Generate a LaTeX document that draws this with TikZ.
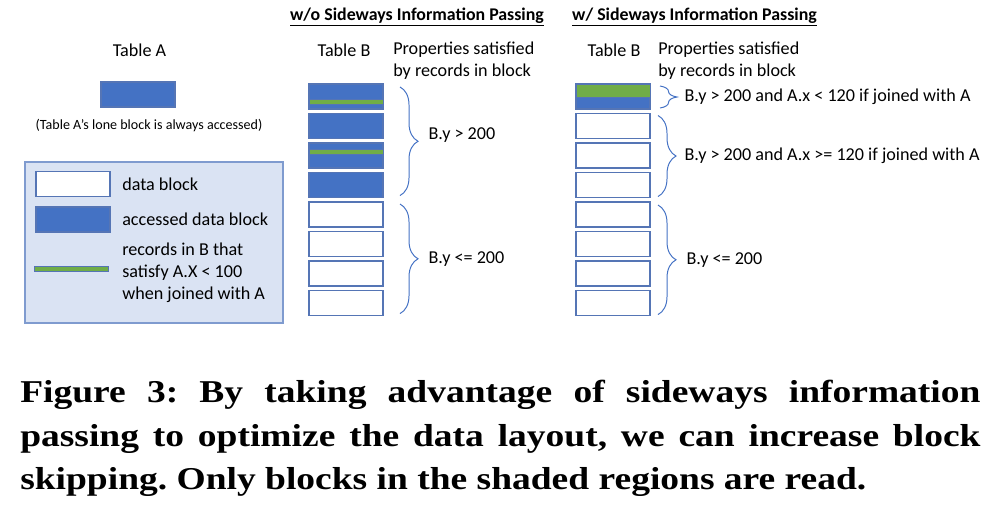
\documentclass[tikz,border=0pt]{standalone}
\usepackage{fontspec}
\setmainfont{Carlito}
\newfontfamily\capfont[FakeStretch=1.18]{Liberation Serif}
\usepackage{xcolor}
\usetikzlibrary{positioning, decorations.pathreplacing}

\definecolor{accblue}{HTML}{4472C4}
\definecolor{edgeblue}{HTML}{5575B5}
\definecolor{recgreen}{HTML}{70AD47}
\definecolor{legfill}{HTML}{DAE3F3}
\definecolor{legedge}{HTML}{7F9BCF}

\begin{document}
\begin{tikzpicture}[
  x=0.025cm, y=-0.025cm,
  node distance=0.1125cm and 0.3cm,
  blk/.style={rectangle, draw=edgeblue, line width=0.8pt, fill=white,
              minimum width=1.85cm, minimum height=0.625cm,
              inner sep=0pt, outer sep=0pt},
  accblk/.style={blk, fill=accblue},
  gbar/.style={rectangle, draw=edgeblue, fill=recgreen, line width=0.6pt,
               minimum width=1.85cm, minimum height=0.125cm, inner sep=0pt},
  lbl/.style={font=\fontsize{12.9}{15.6}\selectfont, align=left, inner sep=0pt},
  head/.style={font=\bfseries\fontsize{12.7}{15}\selectfont, inner sep=0pt},
  bbrace/.style={decorate, decoration={brace, amplitude=0.45cm},
                 draw=accblue, line width=0.7pt}
]
\useasboundingbox (0,0) rectangle (1001,509);

% Table A
\node[lbl] (tablea) at (139.5,50) {Table A};
\node[accblk] (ablk) at (138,94.5) {};
\node[font=\fontsize{10}{12}\selectfont, inner sep=0pt] (anote) at (149,125)
     {(Table A’s lone block is always accessed)};

% Legend
\node[draw=legedge, fill=legfill, line width=0.8pt,
      minimum width=6.45cm, minimum height=4.025cm] (legend) at (154,242.5) {};
\node[blk] (lwhite) at (73,184) {};
\node[accblk] (lblue) at (73,219.5) {};
\node[gbar] (lgreen) at (71,268.5) {};
\node[lbl, right=of lwhite, anchor=west] (lwtxt) {data block};
\node[lbl, right=of lblue, anchor=west] (lbtxt) {accessed data block};
\node[lbl, anchor=west] (lgtxt) at (122,273)
     {records in B that\\satisfy A.X < 100\\when joined with A};

% w/o Sideways Information Passing
\node[head] (hwo) at (417,17) {\underline{w/o Sideways Information Passing}};
\node[lbl] (tbwo) at (344,50) {Table B};
\node[lbl, anchor=west] (pwo) at (393,61) {Properties satisfied\\by records in block};

\node[accblk] (ob1) at (346,96.5) {};
\node[accblk, below=of ob1] (ob2) {};
\node[accblk, below=of ob2] (ob3) {};
\node[accblk, below=of ob3] (ob4) {};
\node[blk, below=of ob4] (ob5) {};
\node[blk, below=of ob5] (ob6) {};
\node[blk, below=of ob6] (ob7) {};
\node[blk, below=of ob7] (ob8) {};
\node[gbar] (og1) at ([yshift=-0.125cm]ob1.center) {};
\node[gbar] (og3) at ([yshift=0.0875cm]ob3.center) {};

\draw[bbrace] ([xshift=0.425cm, yshift=-0.075cm]ob1.north east)
  -- ([xshift=0.425cm, yshift=0.05cm]ob4.south east)
  node[midway, right=0.7cm, yshift=0.15cm, lbl] (owo1) {B.y > 200};
\draw[bbrace] ([xshift=0.425cm, yshift=-0.05cm]ob5.north east)
  -- ([xshift=0.425cm, yshift=0.05cm]ob8.south east)
  node[midway, right=0.7cm, lbl] (owo2) {B.y <= 200};

% w/ Sideways Information Passing
\node[head] (hw) at (694.5,17) {\underline{w/ Sideways Information Passing}};
\node[lbl] (tbw) at (614,50) {Table B};
\node[lbl, anchor=west] (pw) at (658,61) {Properties satisfied\\by records in block};

\node[accblk] (wb1) at (613,96.5) {};
\node[blk, below=of wb1] (wb2) {};
\node[blk, below=of wb2] (wb3) {};
\node[blk, below=of wb3] (wb4) {};
\node[blk, below=of wb4] (wb5) {};
\node[blk, below=of wb5] (wb6) {};
\node[blk, below=of wb6] (wb7) {};
\node[blk, below=of wb7] (wb8) {};
\node[gbar, minimum height=0.325cm, anchor=north] (wg1) at (wb1.north) {};

\draw[bbrace, decoration={amplitude=0.425cm}]
  ([xshift=0.25cm, yshift=-0.05cm]wb1.north east)
  -- ([xshift=0.25cm, yshift=0.025cm]wb1.south east)
  node[midway, right=0.6cm, lbl] (ow1) {B.y > 200 and A.x < 120 if joined with A};
\draw[bbrace] ([xshift=0.2cm, yshift=-0.05cm]wb2.north east)
  -- ([xshift=0.2cm, yshift=0.025cm]wb4.south east)
  node[midway, right=0.65cm, lbl] (ow2) {B.y > 200 and A.x >= 120 if joined with A};
\draw[bbrace] ([xshift=0.2cm, yshift=-0.075cm]wb5.north east)
  -- ([xshift=0.2cm, yshift=0.025cm]wb8.south east)
  node[midway, right=0.7cm, lbl] (ow3) {B.y <= 200};

% Caption
\node[text width=24cm, align=justify, anchor=north west, inner sep=0pt,
      font=\capfont\bfseries\fontsize{22.6}{31}\selectfont\frenchspacing] (caption) at (20,380)
  {Figure 3: By taking advantage of sideways information\linebreak
   passing to optimize the data layout, we can increase block\linebreak
   skipping. Only blocks in the shaded regions are read.};

\end{tikzpicture}
\end{document}
